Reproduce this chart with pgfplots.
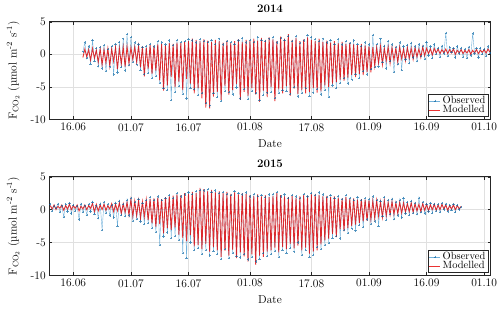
\documentclass[border=0pt]{standalone}
\usepackage{pgfplots}
\usepackage{pgfplotstable}
\pgfplotsset{compat=1.18}
\definecolor{obsblue}{rgb}{0,0.447,0.741}
\definecolor{modred}{rgb}{0.9,0,0}
\definecolor{axgray}{rgb}{0.15,0.15,0.15}

\pgfplotstableread{
t m o
17.5 -0.5 0.4
18 0.8 1.8
18.5 -0.4 -0.6
19 0.7 1.2
19.5 -0.9 -1.5
20 0.9 2.2
20.5 -0.6 -1.0
21 0.6 0.9
21.5 -1.2 -1.8
22 0.8 1.1
22.5 -1.6 -2.2
23 0.7 1.4
23.5 -1.3 -2.6
24 0.9 0.8
24.5 -1.8 -1.9
25 0.8 1.3
25.5 -1.1 -3.1
26 1.0 1.6
26.5 -2.3 -2.8
27 0.9 1.9
27.5 -1.5 -2.0
28 1.1 2.4
28.5 -1.9 -2.5
29 1.2 3.1
29.5 -1.4 -1.7
30 1.0 2.6
30.5 -0.8 -1.2
31 1.1 1.8
31.5 -1.2 -1.6
32 1.3 1.5
32.5 -2.0 -2.4
33 1.2 1.1
33.5 -3.4 -3.0
34 1.0 1.3
34.5 -2.2 -2.9
35 1.4 1.6
35.5 -3.0 -3.6
36 1.3 1.2
36.5 -2.5 -3.3
37 1.5 2.0
37.5 -4.0 -4.4
38 1.6 1.8
38.5 -5.6 -5.2
39 1.4 1.5
39.5 -4.8 -5.5
40 1.7 2.1
40.5 -3.5 -7.0
41 1.6 1.4
41.5 -5.0 -5.8
42 1.8 2.2
42.5 -4.2 -4.9
43 1.7 1.9
43.5 -5.5 -6.1
44 1.9 2.0
44.5 -3.8 -6.8
45 2.0 2.3
45.5 -4.5 -5.2
46 2.4 2.1
46.5 -6.0 -5.4
47 2.2 1.8
47.5 -5.2 -6.3
48 2.0 2.3
48.5 -6.8 -6.0
49 2.3 2.0
49.5 -8.2 -7.5
50 2.1 1.9
50.5 -8.3 -7.9
51 1.9 2.2
51.5 -6.5 -6.0
52 2.2 1.6
52.5 -5.8 -6.6
53 2.0 2.4
53.5 -7.0 -7.2
54 1.8 1.5
54.5 -4.9 -5.6
55 2.1 2.0
55.5 -6.2 -5.8
56 1.7 1.9
56.5 -5.5 -6.2
57 2.0 1.6
57.5 -4.6 -5.1
58 2.3 2.1
58.5 -7.0 -6.8
59 1.9 2.5
59.5 -5.8 -5.3
60 2.2 1.8
60.5 -6.4 -6.9
61 2.0 2.2
61.5 -5.2 -5.7
62 2.4 1.9
62.5 -6.2 -6.0
63 2.1 2.6
63.5 -7.3 -7.0
64 2.5 2.2
64.5 -5.6 -6.3
65 2.2 2.0
65.5 -6.6 -5.9
66 2.6 2.4
66.5 -5.0 -5.8
67 2.3 2.7
67.5 -7.2 -6.7
68 2.0 1.8
68.5 -5.4 -6.0
69 2.7 2.5
69.5 -6.0 -5.5
70 2.4 2.2
70.5 -4.9 -5.6
71 3.1 2.8
71.5 -6.4 -6.1
72 2.2 2.0
72.5 -5.3 -5.0
73 2.5 2.8
73.5 -6.1 -6.5
74 2.0 1.7
74.5 -5.5 -6.0
75 2.3 2.1
75.5 -6.0 -5.2
76 2.6 2.9
76.5 -5.8 -6.4
77 2.2 2.6
77.5 -5.2 -5.9
78 2.0 2.3
78.5 -5.9 -5.3
79 2.4 2.0
79.5 -5.7 -6.2
80 1.9 2.4
80.5 -4.8 -5.5
81 2.1 1.8
81.5 -5.0 -6.6
82 1.8 2.2
82.5 -4.5 -4.8
83 2.0 1.6
83.5 -4.3 -5.2
84 1.7 2.3
84.5 -3.9 -4.4
85 1.9 1.5
85.5 -4.1 -3.7
86 1.6 2.0
86.5 -3.6 -4.5
87 1.8 1.7
87.5 -3.2 -3.9
88 1.5 2.1
88.5 -3.5 -3.0
89 1.4 1.6
89.5 -3.0 -3.6
90 1.6 1.3
90.5 -3.2 -2.6
91 1.3 1.8
91.5 -2.7 -3.1
92 1.2 1.5
92.5 -2.8 -2.3
93 1.1 3.0
93.5 -1.8 -2.0
94 1.0 1.6
94.5 -1.3 -1.9
95 1.2 2.4
95.5 -1.6 -1.2
96 0.9 1.3
96.5 -1.0 -2.2
97 1.1 2.0
97.5 -1.4 -1.1
98 1.0 1.5
98.5 -0.9 -2.7
99 0.9 1.1
99.5 -1.2 -1.5
100 1.1 1.8
100.5 -0.7 -2.4
101 0.8 1.2
101.5 -1.0 -0.8
102 1.0 1.4
102.5 -0.6 -1.3
103 0.9 1.7
103.5 -0.8 -0.5
104 1.0 1.2
104.5 -0.4 -1.0
105 0.8 1.5
105.5 -0.5 -0.3
106 1.1 1.3
106.5 -0.2 -0.7
107 0.9 1.9
107.5 0.1 -0.2
108 0.8 1.2
108.5 -0.1 -0.6
109 0.9 1.5
109.5 0.2 0.0
110 0.8 1.0
110.5 0.1 -0.4
111 0.7 1.3
111.5 0.2 0.1
112 0.8 3.3
112.5 0.1 -0.3
113 0.7 1.1
113.5 0.2 0.3
114 0.8 0.9
114.5 0.0 -0.5
115 0.6 1.2
115.5 0.2 0.1
116 0.7 1.0
116.5 0.1 -0.4
117 0.6 0.8
117.5 0.2 -0.6
118 0.7 1.1
118.5 0.0 -0.2
119 0.6 3.2
119.5 0.2 0.1
120 0.7 0.9
120.5 0.1 -0.5
121 0.6 1.0
121.5 0.3 0.0
122 0.7 0.8
122.5 0.2 -0.3
123 0.8 1.2
123.5 0.3 0.2
}\dataA

\pgfplotstableread{
t m o
9 0.6 0.8
9.5 0.1 -0.2
10 0.7 0.5
10.5 0.0 0.2
11 0.5 0.9
11.5 0.2 -0.4
12 0.7 0.6
12.5 -0.1 -1.1
13 0.6 0.8
13.5 0.1 -0.3
14 0.8 1.0
14.5 0.0 -0.6
15 0.6 0.7
15.5 0.2 -0.2
16 0.7 0.5
16.5 -0.2 -1.5
17 0.5 0.9
17.5 0.1 -0.4
18 0.7 0.6
18.5 0.0 -0.8
19 0.6 0.8
19.5 0.2 -0.3
20 0.9 1.2
20.5 -0.3 -0.7
21 0.8 0.6
21.5 -0.2 -1.3
22 0.7 0.9
22.5 0.0 -3.1
23 0.8 1.1
23.5 -0.1 -0.5
24 0.6 0.8
24.5 0.1 -0.9
25 0.9 0.7
25.5 -0.3 -1.2
26 0.8 1.0
26.5 -0.2 -2.5
27 1.0 1.3
27.5 -0.6 -0.8
28 0.9 0.8
28.5 -0.4 -1.0
29 1.1 1.5
29.5 -0.8 -0.9
30 1.5 1.8
30.5 -1.0 -1.7
31 1.3 1.2
31.5 -0.9 -1.4
32 1.4 1.6
32.5 -1.3 -1.8
33 1.2 1.0
33.5 -1.1 -2.2
34 1.5 1.4
34.5 -1.6 -2.0
35 1.6 1.9
35.5 -2.1 -2.8
36 1.7 1.5
36.5 -2.6 -3.4
37 1.8 2.0
37.5 -2.2 -5.4
38 1.6 1.4
38.5 -3.6 -4.1
39 1.9 1.7
39.5 -2.8 -3.5
40 2.0 2.2
40.5 -3.1 -4.3
41 2.1 1.8
41.5 -2.7 -4.0
42 2.3 2.5
42.5 -3.8 -4.6
43 2.2 2.0
43.5 -4.3 -6.6
44 2.5 2.3
44.5 -4.8 -7.4
45 2.4 2.6
45.5 -3.9 -5.0
46 2.7 2.4
46.5 -5.6 -6.2
47 2.5 2.8
47.5 -5.4 -5.9
48 3.3 3.0
48.5 -6.0 -6.8
49 3.1 2.9
49.5 -5.2 -6.1
50 2.8 3.1
50.5 -6.4 -7.0
51 3.0 2.7
51.5 -5.7 -6.3
52 2.6 2.9
52.5 -6.2 -6.8
53 2.8 2.5
53.5 -7.2 -7.5
54 2.5 2.7
54.5 -6.3 -6.0
55 2.7 2.4
55.5 -7.0 -7.4
56 2.4 2.2
56.5 -6.1 -6.6
57 2.6 2.8
57.5 -7.4 -7.1
58 2.3 2.5
58.5 -6.5 -7.3
59 2.5 2.3
59.5 -7.1 -6.8
60 2.4 2.6
60.5 -7.9 -7.6
61 2.2 2.0
61.5 -6.8 -7.2
62 2.1 2.4
62.5 -8.4 -7.9
63 2.3 2.1
63.5 -7.0 -7.5
64 2.0 2.2
64.5 -7.2 -6.6
65 2.2 1.9
65.5 -6.4 -7.1
66 1.9 2.3
66.5 -6.2 -6.8
67 2.1 2.4
67.5 -5.8 -6.3
68 2.5 2.7
68.5 -6.5 -7.2
69 2.2 2.0
69.5 -5.7 -6.1
70 2.0 2.3
70.5 -6.0 -6.6
71 1.9 1.8
71.5 -5.2 -5.9
72 2.1 2.2
72.5 -5.9 -6.4
73 1.8 2.0
73.5 -5.5 -5.0
74 2.0 1.7
74.5 -6.2 -6.9
75 2.2 2.4
75.5 -5.8 -6.1
76 2.1 2.0
76.5 -6.7 -7.2
77 2.3 2.5
77.5 -6.4 -6.9
78 2.4 2.2
78.5 -6.2 -5.7
79 2.2 2.6
79.5 -5.3 -6.0
80 2.0 2.3
80.5 -4.7 -5.4
81 2.1 1.9
81.5 -4.4 -5.1
82 1.9 2.2
82.5 -3.7 -4.3
83 2.0 1.8
83.5 -4.2 -4.0
84 1.8 2.1
84.5 -3.0 -4.4
85 1.7 1.6
85.5 -3.3 -3.1
86 1.9 2.2
86.5 -2.8 -3.6
87 1.6 1.8
87.5 -2.5 -2.9
88 1.7 1.5
88.5 -2.3 -3.2
89 1.5 1.9
89.5 -2.0 -2.4
90 1.6 1.4
90.5 -1.8 -2.7
91 1.5 1.7
91.5 -1.7 -1.5
92 1.4 1.6
92.5 -1.5 -2.2
93 1.3 2.0
93.5 -1.3 -1.8
94 1.4 1.5
94.5 -1.0 -2.5
95 1.2 1.3
95.5 -1.2 -1.0
96 1.3 1.9
96.5 -0.9 -1.6
97 1.1 1.4
97.5 -0.8 -0.7
98 1.2 1.6
98.5 -0.7 -1.4
99 1.0 1.2
99.5 -0.6 -0.9
100 1.1 1.5
100.5 -0.5 -1.2
101 1.0 1.7
101.5 -0.4 -0.6
102 0.9 1.1
102.5 -0.3 -0.8
103 1.0 1.3
103.5 -0.4 -0.5
104 0.9 1.0
104.5 -0.2 -0.7
105 0.8 1.8
105.5 -0.3 -0.4
106 0.9 1.1
106.5 -0.1 -0.6
107 0.8 0.9
107.5 -0.2 -0.3
108 0.7 1.0
108.5 0.0 -0.5
109 0.8 0.9
109.5 -0.1 -0.2
110 0.7 0.8
110.5 0.0 -0.4
111 0.8 1.0
111.5 0.1 0.0
112 0.7 0.9
112.5 -0.1 -0.3
113 0.6 0.7
113.5 0.1 -0.1
114 0.7 0.8
114.5 0.0 -0.4
115 0.6 0.7
115.5 0.1 0.0
116 0.5 0.4
}\dataB

\pgfplotsset{
  fluxaxis/.style={
    scale only axis, width=441.4pt, height=97.6pt,
    xmin=8.75, xmax=123.7, ymin=-10, ymax=5,
    xtick={15,30,45,61,77,92,107,122},
    xticklabels={16.06,01.07,16.07,01.08,17.08,01.09,16.09,01.10},
    ytick={-10,-5,0,5}, yticklabels={-10,-5,0,5},
    grid=major, grid style={black!12, line width=0.4pt},
    tick align=inside, major tick length=3pt,
    tick style={axgray, line width=0.4pt},
    axis line style={axgray, line width=0.5pt},
    ticklabel style={font=\fontsize{11.5}{13}\selectfont},
    xticklabel style={yshift=-0.5pt},
    xlabel={Date},
    ylabel={F$_{\mathrm{CO}_2}$ (\textmu mol m\textsuperscript{-2} s\textsuperscript{-1})},
    ylabel style={font=\fontsize{11.5}{13}\selectfont, at={(axis description cs:-0.082,0.5)}, anchor=center},
    xlabel style={font=\fontsize{11.5}{13}\selectfont, at={(axis description cs:0.5,-0.25)}, anchor=center},
    every axis title shift=0pt,
    title style={font=\fontsize{11.5}{13}\selectfont\bfseries, at={(axis description cs:0.5,1.13)}, anchor=center},
    legend cell align=left,
    legend style={at={(0.994,0.027)}, anchor=south east, draw=axgray,
      line width=0.4pt, inner sep=0.5pt, row sep=-2.5pt,
      font=\fontsize{10.5}{12}\selectfont,
      nodes={inner xsep=2pt, inner ysep=1.5pt}},
    legend image code/.code={\draw[mark repeat=2,mark phase=2,##1] plot coordinates {(0cm,0cm)(0.19cm,0cm)(0.38cm,0cm)};},
  },
  obsstyle/.style={obsblue, draw opacity=0.55, line width=0.4pt, mark=+, mark size=1.1pt,
    mark options={obsblue!85!black, draw opacity=0.65, line width=0.3pt}},
  modstyle/.style={modred, line width=0.85pt, draw opacity=0.8, no marks},
}

\begin{document}
\begin{tikzpicture}
\path[use as bounding box] (-49.3pt,119.3pt) rectangle (450.7pt,-189.7pt);
\begin{axis}[fluxaxis, title={2014}, at={(0pt,0pt)}, anchor=south west]
\addplot[obsstyle] table[x=t,y=o]{\dataA};
\addplot[modstyle] table[x=t,y=m]{\dataA};
\legend{Observed, Modelled}
\end{axis}
\begin{axis}[fluxaxis, title={2015}, at={(0pt,-156pt)}, anchor=south west, height=98.6pt]
\addplot[obsstyle] table[x=t,y=o]{\dataB};
\addplot[modstyle] table[x=t,y=m]{\dataB};
\legend{Observed, Modelled}
\end{axis}
\end{tikzpicture}
\end{document}
